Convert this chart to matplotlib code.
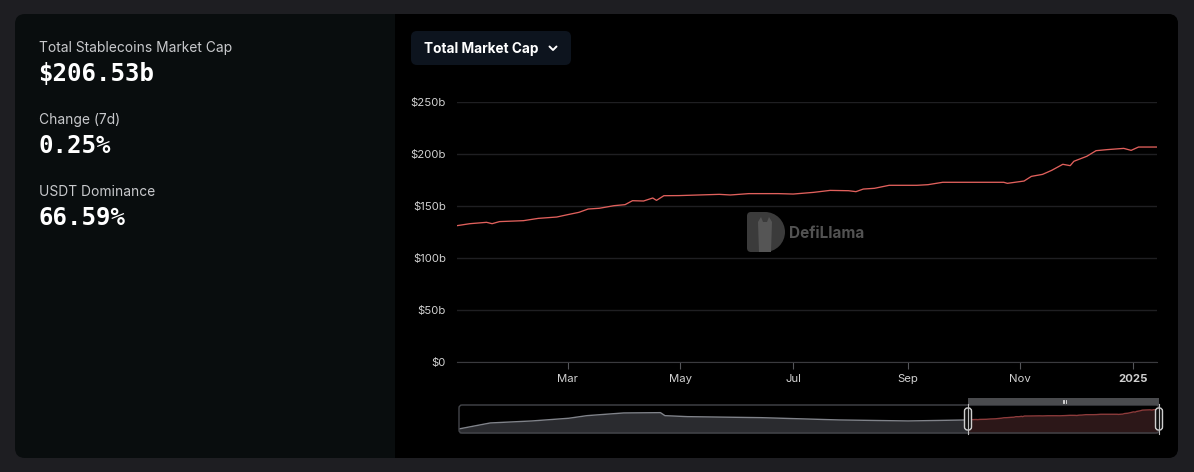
import numpy as np
import matplotlib
matplotlib.use("Agg")
import matplotlib.pyplot as plt
from matplotlib.patches import FancyBboxPatch, Rectangle, Wedge, Polygon

# ---------------- data ----------------
dates = ["2024-01-01", "2024-01-08", "2024-01-17", "2024-01-20", "2024-01-24", "2024-02-06",
         "2024-02-14", "2024-02-24", "2024-03-01", "2024-03-07", "2024-03-12", "2024-03-18",
         "2024-03-26", "2024-04-01", "2024-04-05", "2024-04-11", "2024-04-16", "2024-04-18",
         "2024-04-22", "2024-04-30", "2024-05-11", "2024-05-22", "2024-05-28", "2024-06-07",
         "2024-06-23", "2024-07-01", "2024-07-12", "2024-07-21", "2024-07-31", "2024-08-04",
         "2024-08-08", "2024-08-14", "2024-08-22", "2024-09-06", "2024-09-12", "2024-09-20",
         "2024-10-06", "2024-10-23", "2024-10-25", "2024-11-03", "2024-11-07", "2024-11-13",
         "2024-11-18", "2024-11-24", "2024-11-28", "2024-11-30", "2024-12-07", "2024-12-12",
         "2024-12-18", "2024-12-27", "2024-12-31", "2025-01-04", "2025-01-14"]
mcap = [131.1, 133.0, 134.3, 133.0, 135.0, 135.9,
        138.1, 139.4, 141.7, 143.9, 147.1, 147.8,
        150.3, 151.3, 155.1, 154.8, 157.7, 155.4,
        159.9, 160.0, 160.6, 161.2, 160.6, 161.9,
        161.9, 161.5, 163.1, 165.0, 164.7, 163.8,
        166.3, 167.0, 169.9, 169.9, 170.5, 172.8,
        172.8, 172.8, 171.8, 174.0, 178.5, 180.4,
        184.3, 190.1, 188.8, 193.0, 197.8, 203.2,
        204.2, 205.4, 203.5, 206.7, 206.7]

hist_dates = ["2021-03-26", "2021-05-27", "2021-08-18", "2021-10-30", "2021-12-05",
              "2022-02-16", "2022-04-30", "2022-05-09", "2022-06-23", "2022-11-16",
              "2023-04-20", "2023-09-04"]
hist_mcap = [65.0, 108.9, 123.7, 143.5, 162.6,
             182.5, 184.7, 162.6, 155.3, 147.9,
             131.0, 123.7]

x_ticks = ["2024-03-01", "2024-05-01", "2024-07-01", "2024-09-01", "2024-11-01", "2025-01-01"]
x_labels = ["Mar", "May", "Jul", "Sep", "Nov", "2025"]
y_ticks = [0, 50, 100, 150, 200, 250]
y_labels = ["$0", "$50b", "$100b", "$150b", "$200b", "$250b"]

stats_labels = ["Total Stablecoins Market Cap", "Change (7d)", "USDT Dominance"]
stats_values = ["$206.53b", "0.25%", "66.59%"]

# ---------------- figure ----------------
W, H = 1194, 472
fig = plt.figure(figsize=(W / 100, H / 100), dpi=100)
fig.patch.set_facecolor("#1e1e22")

def ax_px(x0, y0, x1, y1, **kw):
    return fig.add_axes([x0 / W, 1 - y1 / H, (x1 - x0) / W, (y1 - y0) / H], **kw)

bg = ax_px(0, 0, W, H, zorder=0)
bg.set_xlim(0, W)
bg.set_ylim(H, 0)
bg.axis("off")

LEFT_BG = "#090d0e"
bg.add_patch(FancyBboxPatch((15, 14), 1163, 444, boxstyle="round,pad=0,rounding_size=10",
                            fc=LEFT_BG, ec="none"))
bg.add_patch(FancyBboxPatch((395, 14), 783, 444, boxstyle="round,pad=0,rounding_size=10",
                            fc="#000000", ec="none"))
bg.add_patch(Rectangle((395, 14), 30, 444, fc="#000000", ec="none"))

# left stats
sans = ["Inter", "DejaVu Sans"]
for i, (lab, val) in enumerate(zip(stats_labels, stats_values)):
    y = 48 + 72 * i
    bg.text(39, y, lab, color="#c8c9cc", fontsize=9.95, family=sans, va="center", ha="left")
    bg.text(38, y + 26, val, color="#ffffff", fontsize=17.3, family="DejaVu Sans Mono",
            fontweight="bold", va="center", ha="left")

# button
bg.add_patch(FancyBboxPatch((411, 31), 160, 34, boxstyle="round,pad=0,rounding_size=6",
                            fc="#0d141e", ec="none"))
bg.text(424, 48.5, "Total Market Cap", color="#ffffff", fontsize=9.8, family=sans,
        fontweight="bold", va="center", ha="left")
bg.plot([549.5, 553, 556.5], [46.5, 50, 46.5], color="#ffffff", lw=1.4, solid_capstyle="round")

# watermark
WM = "#3b3b3b"
bg.add_patch(Rectangle((752, 212), 13, 40, fc=WM, ec="none"))
bg.add_patch(Wedge((765, 232), 20, -90, 90, fc=WM, ec="none"))
bg.add_patch(FancyBboxPatch((747, 212), 12, 40, boxstyle="round,pad=0,rounding_size=4",
                            fc=WM, ec="none"))
bg.add_patch(Polygon([(758, 222), (761, 217), (763, 222), (767, 222), (769, 217), (772, 222),
                      (771, 252), (759, 252)], closed=True, fc="#555555", ec="none"))
bg.text(789, 233.5, "DefiLlama", color="#525252", fontsize=11, family=sans, fontweight="bold",
        va="center", ha="left")

# ---------------- main chart ----------------
ax = ax_px(457, 102, 1157, 362, zorder=2)
ax.set_facecolor("none")
d = np.array(dates, dtype="datetime64[D]")
ax.plot(d, mcap, color="#e0605c", lw=0.95)
ax.set_xlim(np.datetime64("2024-01-01"), np.datetime64("2025-01-14"))
ax.set_ylim(0, 250)
ax.set_yticks(y_ticks)
ax.set_yticklabels(y_labels)
ax.set_xticks(np.array(x_ticks, dtype="datetime64[D]"))
ax.set_xticklabels(x_labels)
for lab in ax.get_xticklabels():
    if lab.get_text() == "2025":
        lab.set_fontweight("bold")
ax.grid(axis="y", color="#1f1f22", lw=1)
ax.set_axisbelow(True)
for s in ["top", "right", "left"]:
    ax.spines[s].set_visible(False)
ax.spines["bottom"].set_color("#3a3a3e")
ax.tick_params(axis="y", length=0, pad=8, labelsize=8.2, labelcolor="#d0d0d0")
ax.tick_params(axis="x", length=5, color="#55565a", pad=4, labelsize=8.2, labelcolor="#d0d0d0")
for lab in ax.get_xticklabels() + ax.get_yticklabels():
    lab.set_family(sans)

# ---------------- mini brush chart ----------------
mini = ax_px(459, 405, 1159, 433, zorder=2)
mini.set_facecolor("none")
hd = np.array(hist_dates, dtype="datetime64[D]")
all_d = np.concatenate([hd, d])
all_v = np.concatenate([hist_mcap, mcap])
brush_start = np.datetime64("2024-01-01")
pre = all_d <= brush_start
post = all_d >= brush_start
mini.fill_between(all_d[pre], 35, all_v[pre], color="#2a2b2f", lw=0)
mini.plot(all_d[pre], all_v[pre], color="#80838a", lw=1)
mini.fill_between(all_d[post], 35, all_v[post], color="#2c1718", lw=0)
mini.plot(all_d[post], all_v[post], color="#8d3b3b", lw=1)
mini.set_xlim(all_d[0], all_d[-1])
mini.set_ylim(35, 241)
mini.axis("off")

top = ax_px(0, 0, W, H, zorder=3)
top.set_xlim(0, W)
top.set_ylim(H, 0)
top.axis("off")
top.set_facecolor("none")
top.add_patch(FancyBboxPatch((459, 405), 700, 28, boxstyle="round,pad=0,rounding_size=3",
                             fc="none", ec="#44464b", lw=1))
top.add_patch(Rectangle((968, 398), 191, 6.5, fc="#4a4b4e", ec="none"))
for xx in (1062.5, 1064, 1065.5):
    top.plot([xx, xx], [399.8, 402.6], color="#e8e8e8", lw=0.6)
for hx in (968, 1159):
    top.plot([hx, hx], [404, 434], color="#bdbdbd", lw=0.8)
    top.add_patch(FancyBboxPatch((hx - 3.5, 408), 7, 22, boxstyle="round,pad=0,rounding_size=3",
                                 fc="#111111", ec="#cfcfcf", lw=1))

fig.savefig("out.png", dpi=100, facecolor=fig.get_facecolor())
